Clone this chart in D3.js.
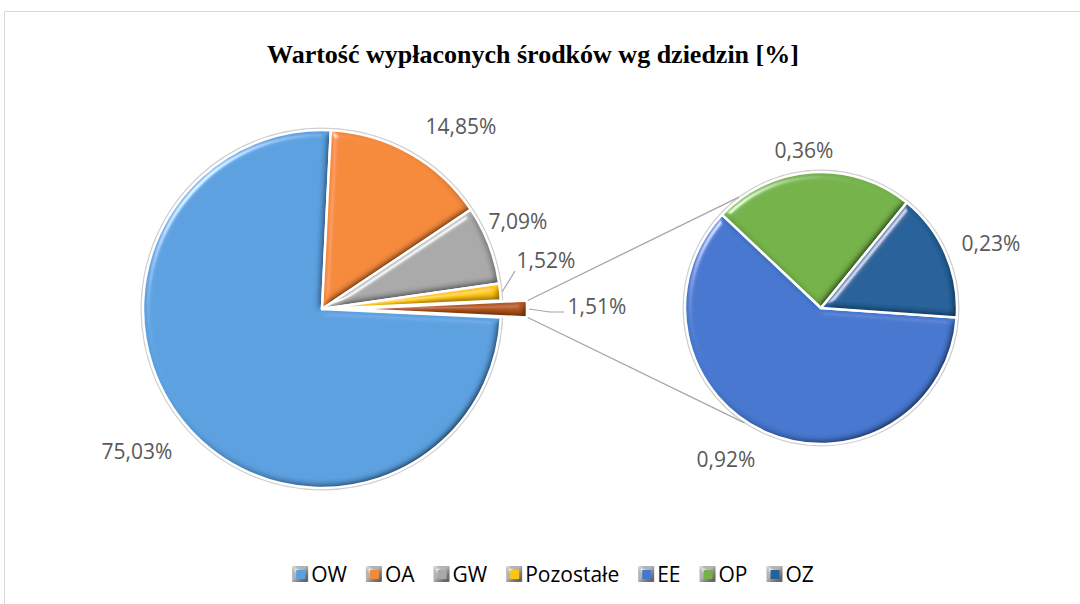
<!DOCTYPE html>
<html>
<head>
<meta charset="utf-8">
<script src="https://cdn.jsdelivr.net/npm/d3@7"></script>
<style>
  html, body { margin: 0; padding: 0; background: #fff; }
  svg { display: block; }
</style>
</head>
<body>
<div id="chart"></div>
<script>
// data
const mainNames  = ['OW', 'OA', 'GW', 'Pozostałe', 'Inne'];
const mainValues = [75.03, 14.85, 7.09, 1.52, 1.51];
const subNames   = ['EE', 'OP', 'OZ'];
const subValues  = [0.92, 0.36, 0.23];
const legendNames = ['OW', 'OA', 'GW', 'Pozostałe', 'EE', 'OP', 'OZ'];

// colours
const mainColors = ['#5ba0e0', '#f5893a', '#a9a9a9', '#ffc513', '#b3561b'];
const subColors  = ['#4677cf', '#74b249', '#25629a'];
const legendColors = ['#5ba0e0', '#f5893a', '#a9a9a9', '#ffc513', '#4677cf', '#74b249', '#25629a'];

// layout
const W = 1080, H = 604;
const main = { cx: 322, cy: 309, r: 179 };
const sub  = { cx: 821, cy: 308, r: 136 };
const explode = 26;
// label anchors, offsets from each pie centre
const mainLabelPos = [[-185, 142], [139, -183], [196, -88], [224, -49], [275, -3]];
const subLabelPos  = [[-95, 151], [-17, -158], [170, -65]];

const fmt = d3.formatLocale({ decimal: ',', thousands: ' ', grouping: [3], currency: ['', ''] }).format('.2f');
const pct = v => fmt(v) + '%';

const svg = d3.select('#chart').append('svg')
  .attr('width', W).attr('height', H);

// bevel look of the slices
const defs = svg.append('defs');
const bevel = defs.append('filter').attr('id', 'bevel')
  .attr('x', '-10%').attr('y', '-10%').attr('width', '120%').attr('height', '120%');
bevel.append('feGaussianBlur').attr('in', 'SourceAlpha').attr('stdDeviation', 3.5).attr('result', 'blur');
bevel.append('feDiffuseLighting').attr('in', 'blur').attr('surfaceScale', 3.5)
  .attr('diffuseConstant', 1.42).attr('lighting-color', '#fff').attr('result', 'diff')
  .append('feDistantLight').attr('azimuth', 225).attr('elevation', 45);
bevel.append('feComposite').attr('in', 'SourceGraphic').attr('in2', 'diff')
  .attr('operator', 'arithmetic').attr('k1', 1).attr('k2', 0).attr('k3', 0).attr('k4', 0)
  .attr('result', 'lit');
bevel.append('feSpecularLighting').attr('in', 'blur').attr('surfaceScale', 3.5)
  .attr('specularConstant', 0.6).attr('specularExponent', 60).attr('lighting-color', '#fff')
  .attr('result', 'spec')
  .append('feDistantLight').attr('azimuth', 225).attr('elevation', 45);
bevel.append('feComposite').attr('in', 'spec').attr('in2', 'SourceAlpha')
  .attr('operator', 'in').attr('result', 'specIn');
bevel.append('feComposite').attr('in', 'lit').attr('in2', 'specIn')
  .attr('operator', 'arithmetic').attr('k1', 0).attr('k2', 1).attr('k3', 1).attr('k4', 0);

// chart border
svg.append('rect')
  .attr('x', 4.5).attr('y', 11.5).attr('width', 1200).attr('height', 800)
  .attr('fill', 'none').attr('stroke', '#d9d9d9').attr('stroke-width', 1);

// title
svg.append('text')
  .attr('x', 533).attr('y', 63)
  .attr('text-anchor', 'middle')
  .attr('font-family', '"Liberation Serif", "Times New Roman", serif')
  .attr('font-weight', 'bold')
  .attr('font-size', 26)
  .attr('fill', '#000')
  .text('Wartość wypłaconych środków wg dziedzin [%]');

// main pie
const otherShare = mainValues[mainValues.length - 1] / d3.sum(mainValues);
const start = Math.PI / 2 + Math.PI * otherShare;
const mainPie = d3.pie().sort(null).value(d => d)
  .startAngle(start).endAngle(start + 2 * Math.PI);
const mainArcs = mainPie(mainValues);
const lastIdx = mainArcs.length - 1;
const arcMain = d3.arc().innerRadius(0).outerRadius(main.r);

function offsetOf(d, i, n) {
  if (i !== n) return [0, 0];
  const m = (d.startAngle + d.endAngle) / 2;
  return [Math.sin(m) * explode, -Math.cos(m) * explode];
}

const gMain = svg.append('g').attr('transform', `translate(${main.cx},${main.cy})`);
gMain.append('circle').attr('r', main.r + 1.5).attr('fill', 'none')
  .attr('stroke', '#cfcfcf').attr('stroke-width', 2);

const mSlices = gMain.selectAll('.mslice').data(mainArcs).join('g')
  .attr('class', 'mslice')
  .attr('transform', (d, i) => `translate(${offsetOf(d, i, lastIdx)})`);
mSlices.append('path').attr('d', arcMain)
  .attr('fill', (d, i) => mainColors[i])
  .attr('filter', 'url(#bevel)');
mSlices.append('path').attr('d', arcMain).attr('fill', 'none')
  .attr('stroke', '#fff').attr('stroke-width', 2.5).attr('stroke-linejoin', 'round');

// secondary pie
const subStart = 94 * Math.PI / 180;
const subPie = d3.pie().sort(null).value(d => d)
  .startAngle(subStart).endAngle(subStart + 2 * Math.PI);
const subArcs = subPie(subValues);
const arcSub = d3.arc().innerRadius(0).outerRadius(sub.r);

const gSub = svg.append('g').attr('transform', `translate(${sub.cx},${sub.cy})`);
gSub.append('circle').attr('r', sub.r + 1.5).attr('fill', 'none')
  .attr('stroke', '#cfcfcf').attr('stroke-width', 2);
const sSlices = gSub.selectAll('.sslice').data(subArcs).join('g').attr('class', 'sslice');
sSlices.append('path').attr('d', arcSub).attr('fill', (d, i) => subColors[i])
  .attr('filter', 'url(#bevel)');
sSlices.append('path').attr('d', arcSub).attr('fill', 'none')
  .attr('stroke', '#fff').attr('stroke-width', 2.5).attr('stroke-linejoin', 'round');

// connector lines between the pies
const other = mainArcs[lastIdx];
const off = offsetOf(other, lastIdx, lastIdx);
const polar = (c, r, a) => [c.cx + r * Math.sin(a), c.cy - r * Math.cos(a)];
const pA = polar(main, main.r + 1, other.startAngle);
const pB = polar(main, main.r + 1, other.endAngle);
const qA = polar(sub, sub.r + 2, -36.5 * Math.PI / 180);
const qB = polar(sub, sub.r + 2, 213.7 * Math.PI / 180);
[[pA, qA], [pB, qB]].forEach(([p, q]) => {
  svg.append('line')
    .attr('x1', p[0] + off[0]).attr('y1', p[1] + off[1])
    .attr('x2', q[0]).attr('y2', q[1])
    .attr('stroke', '#a6a6a6').attr('stroke-width', 1.3);
});

// labels
const labelFont = '"Open Sans", "Noto Sans", sans-serif';
function addLabels(arcs, values, pos, c) {
  svg.append('g').selectAll('text').data(arcs).join('text')
    .attr('x', (d, i) => c.cx + pos[i][0])
    .attr('y', (d, i) => c.cy + pos[i][1])
    .attr('dy', '0.36em')
    .attr('text-anchor', 'middle')
    .attr('font-family', labelFont)
    .attr('font-size', 21)
    .attr('fill', '#595959')
    .text((d, i) => pct(values[i]));
}
addLabels(mainArcs, mainValues, mainLabelPos, main);
addLabels(subArcs, subValues, subLabelPos, sub);

// leader lines for the two thin slices
const poz = mainArcs[3];
const pm = polar(main, main.r + 2, (poz.startAngle + poz.endAngle) / 2);
svg.append('polyline')
  .attr('points', [pm, [main.cx + mainLabelPos[3][0] - 31, main.cy + mainLabelPos[3][1] + 11]].join(' '))
  .attr('fill', 'none').attr('stroke', '#a6a6a6').attr('stroke-width', 1.2);
const om = polar(main, main.r + 2, (other.startAngle + other.endAngle) / 2);
const lx = main.cx + mainLabelPos[4][0] - 33, ly = main.cy + mainLabelPos[4][1] + 6;
svg.append('polyline')
  .attr('points', [[om[0] + off[0], om[1] + off[1]], [lx - 14, ly], [lx, ly]].join(' '))
  .attr('fill', 'none').attr('stroke', '#a6a6a6').attr('stroke-width', 1.2);

// legend
const legend = svg.append('g').attr('transform', 'translate(0,574)');
const items = legend.selectAll('g').data(legendNames).join('g');
items.append('rect').attr('x', 0).attr('y', -8).attr('width', 16).attr('height', 16)
  .attr('fill', '#b4b4b4').attr('filter', 'url(#bevel)');
items.append('rect').attr('x', 4).attr('y', -4).attr('width', 9).attr('height', 9)
  .attr('fill', (d, i) => legendColors[i]);
items.append('text')
  .attr('x', 19).attr('y', 0).attr('dy', '0.36em')
  .attr('font-family', labelFont).attr('font-size', 21).attr('fill', '#000')
  .text(d => d);
const widths = [];
items.each(function () {
  widths.push(19 + this.querySelector('text').getComputedTextLength());
});
const gap = 19;
const total = d3.sum(widths) + gap * (widths.length - 1);
let lxPos = 553 - total / 2;
items.attr('transform', (d, i) => {
  const x = lxPos;
  lxPos += widths[i] + gap;
  return `translate(${x},0)`;
});
</script>
</body>
</html>
